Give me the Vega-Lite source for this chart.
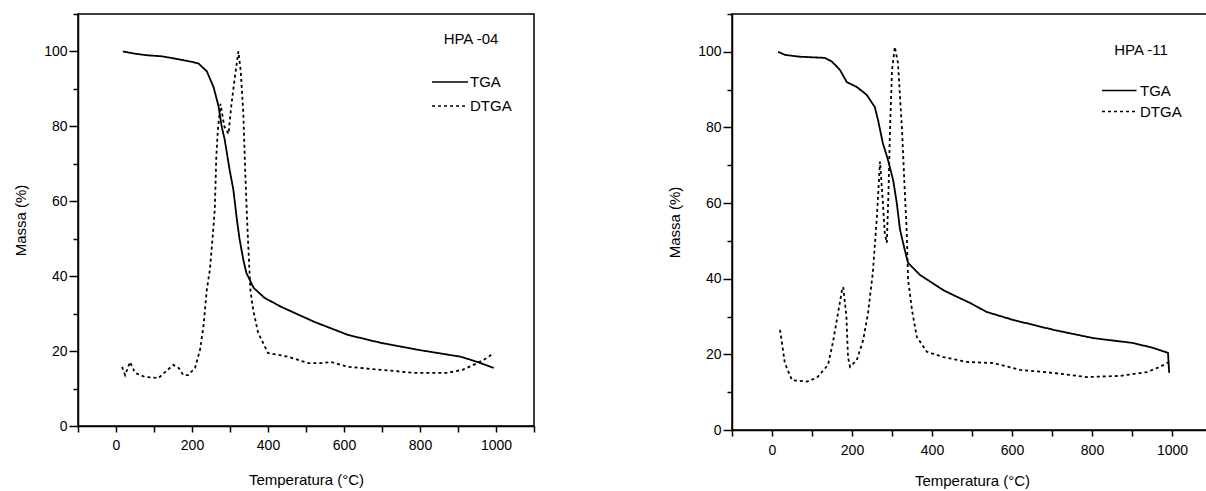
{
  "$schema": "https://vega.github.io/schema/vega-lite/v6.json",
  "background": "white",
  "padding": {"left": 12, "top": 6, "right": 0, "bottom": 0},
  "spacing": 130,
  "config": {
    "font": "Liberation Sans",
    "view": {"stroke": "black", "strokeWidth": 1.5},
    "axis": {
      "grid": false,
      "domainColor": "black",
      "domainWidth": 1.5,
      "tickColor": "black",
      "tickWidth": 1.5,
      "labelColor": "black",
      "labelFontSize": 14,
      "labelFont": "Liberation Sans",
      "titleFont": "Liberation Sans",
      "titleFontSize": 15,
      "titleFontWeight": "normal",
      "titleColor": "black",
      "labelOverlap": false,
      "labelFlush": false
    },
    "legend": {
      "orient": "none",
      "symbolType": "M-1,0L2,0",
      "symbolStrokeWidth": 1.5,
      "labelFontSize": 15,
      "titleFontSize": 15,
      "titleFontWeight": "normal",
      "labelColor": "black",
      "titleColor": "black",
      "titleAnchor": "middle",
      "labelFont": "Liberation Sans",
      "titleFont": "Liberation Sans"
    }
  },
  "resolve": {"legend": {"strokeDash": "independent"}, "scale": {"strokeDash": "independent"}},
  "datasets": {
    "hpa04": [
      {"s": "TGA", "T": 18, "M": 100}, {"s": "TGA", "T": 50, "M": 99.4}, {"s": "TGA", "T": 80, "M": 99}, {"s": "TGA", "T": 121, "M": 98.7}, {"s": "TGA", "T": 160, "M": 98}, {"s": "TGA", "T": 191, "M": 97.4}, {"s": "TGA", "T": 217, "M": 96.8}, {"s": "TGA", "T": 239, "M": 94.7}, {"s": "TGA", "T": 257, "M": 90.4}, {"s": "TGA", "T": 270, "M": 85.3}, {"s": "TGA", "T": 278, "M": 80}, {"s": "TGA", "T": 286, "M": 76.5}, {"s": "TGA", "T": 299, "M": 68.4}, {"s": "TGA", "T": 309, "M": 63}, {"s": "TGA", "T": 317, "M": 56}, {"s": "TGA", "T": 325, "M": 50}, {"s": "TGA", "T": 335, "M": 44.4}, {"s": "TGA", "T": 343, "M": 40.9}, {"s": "TGA", "T": 362, "M": 36.9}, {"s": "TGA", "T": 391, "M": 34.2}, {"s": "TGA", "T": 435, "M": 31.8}, {"s": "TGA", "T": 522, "M": 27.8}, {"s": "TGA", "T": 611, "M": 24.3}, {"s": "TGA", "T": 697, "M": 22.2}, {"s": "TGA", "T": 797, "M": 20.3}, {"s": "TGA", "T": 907, "M": 18.5}, {"s": "TGA", "T": 951, "M": 17.1}, {"s": "TGA", "T": 994, "M": 15.5},
      {"s": "DTGA", "T": 16, "M": 15.8}, {"s": "DTGA", "T": 24, "M": 13.6}, {"s": "DTGA", "T": 37, "M": 17.1}, {"s": "DTGA", "T": 50, "M": 14.2}, {"s": "DTGA", "T": 76, "M": 13.1}, {"s": "DTGA", "T": 112, "M": 12.8}, {"s": "DTGA", "T": 129, "M": 14.4}, {"s": "DTGA", "T": 151, "M": 16.3}, {"s": "DTGA", "T": 165, "M": 15.5}, {"s": "DTGA", "T": 177, "M": 13.6}, {"s": "DTGA", "T": 190, "M": 13.6}, {"s": "DTGA", "T": 208, "M": 15.5}, {"s": "DTGA", "T": 221, "M": 20.3}, {"s": "DTGA", "T": 230, "M": 26.5}, {"s": "DTGA", "T": 239, "M": 36.4}, {"s": "DTGA", "T": 247, "M": 41.7}, {"s": "DTGA", "T": 254, "M": 50}, {"s": "DTGA", "T": 260, "M": 58}, {"s": "DTGA", "T": 264, "M": 72}, {"s": "DTGA", "T": 268, "M": 79}, {"s": "DTGA", "T": 275, "M": 86}, {"s": "DTGA", "T": 285, "M": 80}, {"s": "DTGA", "T": 296, "M": 78}, {"s": "DTGA", "T": 304, "M": 86}, {"s": "DTGA", "T": 312, "M": 92.5}, {"s": "DTGA", "T": 322, "M": 100}, {"s": "DTGA", "T": 328, "M": 95}, {"s": "DTGA", "T": 335, "M": 83.7}, {"s": "DTGA", "T": 340, "M": 68}, {"s": "DTGA", "T": 345, "M": 55}, {"s": "DTGA", "T": 350, "M": 44}, {"s": "DTGA", "T": 354, "M": 36}, {"s": "DTGA", "T": 361, "M": 31}, {"s": "DTGA", "T": 374, "M": 24.9}, {"s": "DTGA", "T": 400, "M": 19.5}, {"s": "DTGA", "T": 453, "M": 18.5}, {"s": "DTGA", "T": 505, "M": 16.8}, {"s": "DTGA", "T": 540, "M": 16.8}, {"s": "DTGA", "T": 566, "M": 17.1}, {"s": "DTGA", "T": 610, "M": 15.8}, {"s": "DTGA", "T": 697, "M": 15}, {"s": "DTGA", "T": 784, "M": 14.2}, {"s": "DTGA", "T": 872, "M": 14.2}, {"s": "DTGA", "T": 912, "M": 15}, {"s": "DTGA", "T": 951, "M": 16.8}, {"s": "DTGA", "T": 977, "M": 18.2}, {"s": "DTGA", "T": 994, "M": 19.5}
    ],
    "hpa11": [
      {"s": "TGA", "T": 15, "M": 100}, {"s": "TGA", "T": 32, "M": 99.2}, {"s": "TGA", "T": 70, "M": 98.7}, {"s": "TGA", "T": 132, "M": 98.4}, {"s": "TGA", "T": 150, "M": 97.4}, {"s": "TGA", "T": 170, "M": 95.2}, {"s": "TGA", "T": 187, "M": 92}, {"s": "TGA", "T": 212, "M": 90.7}, {"s": "TGA", "T": 237, "M": 88.6}, {"s": "TGA", "T": 257, "M": 85.4}, {"s": "TGA", "T": 265, "M": 82}, {"s": "TGA", "T": 277, "M": 75.9}, {"s": "TGA", "T": 290, "M": 71.4}, {"s": "TGA", "T": 303, "M": 66}, {"s": "TGA", "T": 312, "M": 60}, {"s": "TGA", "T": 320, "M": 53}, {"s": "TGA", "T": 332, "M": 47.6}, {"s": "TGA", "T": 340, "M": 44.2}, {"s": "TGA", "T": 370, "M": 41}, {"s": "TGA", "T": 428, "M": 37}, {"s": "TGA", "T": 453, "M": 35.7}, {"s": "TGA", "T": 495, "M": 33.6}, {"s": "TGA", "T": 537, "M": 31.2}, {"s": "TGA", "T": 603, "M": 29.1}, {"s": "TGA", "T": 703, "M": 26.5}, {"s": "TGA", "T": 803, "M": 24.3}, {"s": "TGA", "T": 903, "M": 23}, {"s": "TGA", "T": 953, "M": 21.7}, {"s": "TGA", "T": 990, "M": 20.4}, {"s": "TGA", "T": 993, "M": 15.1},
      {"s": "DTGA", "T": 20, "M": 26.5}, {"s": "DTGA", "T": 25, "M": 23}, {"s": "DTGA", "T": 32, "M": 17.7}, {"s": "DTGA", "T": 50, "M": 13.2}, {"s": "DTGA", "T": 87, "M": 12.8}, {"s": "DTGA", "T": 112, "M": 13.8}, {"s": "DTGA", "T": 140, "M": 17.2}, {"s": "DTGA", "T": 152, "M": 23}, {"s": "DTGA", "T": 165, "M": 30.9}, {"s": "DTGA", "T": 175, "M": 37}, {"s": "DTGA", "T": 178, "M": 37.8}, {"s": "DTGA", "T": 186, "M": 30}, {"s": "DTGA", "T": 190, "M": 19.3}, {"s": "DTGA", "T": 195, "M": 16.7}, {"s": "DTGA", "T": 212, "M": 18.5}, {"s": "DTGA", "T": 228, "M": 23.8}, {"s": "DTGA", "T": 240, "M": 30.9}, {"s": "DTGA", "T": 252, "M": 41.5}, {"s": "DTGA", "T": 262, "M": 56}, {"s": "DTGA", "T": 270, "M": 71}, {"s": "DTGA", "T": 276, "M": 62}, {"s": "DTGA", "T": 282, "M": 52}, {"s": "DTGA", "T": 287, "M": 49.5}, {"s": "DTGA", "T": 291, "M": 62}, {"s": "DTGA", "T": 295, "M": 79.4}, {"s": "DTGA", "T": 300, "M": 95}, {"s": "DTGA", "T": 307, "M": 101.3}, {"s": "DTGA", "T": 315, "M": 97}, {"s": "DTGA", "T": 325, "M": 79.4}, {"s": "DTGA", "T": 332, "M": 63}, {"s": "DTGA", "T": 337, "M": 52}, {"s": "DTGA", "T": 340, "M": 40}, {"s": "DTGA", "T": 350, "M": 31.7}, {"s": "DTGA", "T": 362, "M": 24.6}, {"s": "DTGA", "T": 387, "M": 20.7}, {"s": "DTGA", "T": 428, "M": 19.3}, {"s": "DTGA", "T": 487, "M": 18}, {"s": "DTGA", "T": 553, "M": 17.7}, {"s": "DTGA", "T": 620, "M": 15.9}, {"s": "DTGA", "T": 703, "M": 15.1}, {"s": "DTGA", "T": 787, "M": 14}, {"s": "DTGA", "T": 870, "M": 14.3}, {"s": "DTGA", "T": 937, "M": 15.3}, {"s": "DTGA", "T": 970, "M": 16.7}, {"s": "DTGA", "T": 993, "M": 18}
    ]
  },
  "hconcat": [
    {
      "width": 456,
      "height": 412,
      "data": {"name": "hpa04"},
      "mark": {"type": "line", "color": "black", "strokeWidth": 1.8},
      "encoding": {
        "x": {
          "field": "T", "type": "quantitative",
          "scale": {"domain": [-100, 1100], "nice": false},
          "axis": {
            "title": "Temperatura (°C)",
            "format": "d",
            "values": [-100, 0, 100, 200, 300, 400, 500, 600, 700, 800, 900, 1000, 1100],
            "labelExpr": "(datum.value % 200 == 0 && datum.value >= 0 && datum.value <= 1000) ? datum.label : ''",
            "tickSize": 6, "labelPadding": 6, "titlePadding": 20
          }
        },
        "y": {
          "field": "M", "type": "quantitative",
          "scale": {"domain": [0, 110], "nice": false},
          "axis": {
            "title": "Massa (%)",
            "values": [0, 10, 20, 30, 40, 50, 60, 70, 80, 90, 100, 110],
            "labelExpr": "(datum.value % 20 == 0 && datum.value <= 100) ? datum.label : ''",
            "tickSize": {"condition": {"test": "datum.value % 20 == 0 && datum.value <= 100", "value": 9}, "value": 5},
            "labelPadding": 2, "titlePadding": 15
          }
        },
        "strokeDash": {
          "field": "s", "type": "nominal",
          "scale": {"domain": ["TGA", "DTGA"], "range": [[1, 0], [3, 3]]},
          "legend": {"title": "HPA -04", "legendX": 353, "legendY": 18, "symbolSize": 576, "labelOffset": 13, "titlePadding": 22, "rowPadding": 3}
        }
      }
    },
    {
      "width": 480,
      "height": 416,
      "data": {"name": "hpa11"},
      "mark": {"type": "line", "color": "black", "strokeWidth": 1.8},
      "encoding": {
        "x": {
          "field": "T", "type": "quantitative",
          "scale": {"domain": [-100, 1100], "nice": false},
          "axis": {
            "title": "Temperatura (°C)",
            "format": "d",
            "values": [-100, 0, 100, 200, 300, 400, 500, 600, 700, 800, 900, 1000, 1100],
            "labelExpr": "(datum.value % 200 == 0 && datum.value >= 0 && datum.value <= 1000) ? datum.label : ''",
            "tickSize": 6, "labelPadding": 7, "titlePadding": 16
          }
        },
        "y": {
          "field": "M", "type": "quantitative",
          "scale": {"domain": [0, 110], "nice": false},
          "axis": {
            "title": "Massa (%)",
            "values": [0, 10, 20, 30, 40, 50, 60, 70, 80, 90, 100, 110],
            "labelExpr": "(datum.value % 20 == 0 && datum.value <= 100) ? datum.label : ''",
            "tickSize": {"condition": {"test": "datum.value % 20 == 0 && datum.value <= 100", "value": 9}, "value": 5},
            "labelPadding": 2, "titlePadding": 15
          }
        },
        "strokeDash": {
          "field": "s", "type": "nominal",
          "scale": {"domain": ["TGA", "DTGA"], "range": [[1, 0], [3, 3]]},
          "legend": {"title": "HPA -11", "legendX": 369, "legendY": 29, "symbolSize": 529, "labelOffset": 14, "titlePadding": 20, "rowPadding": 0}
        }
      }
    }
  ]
}
